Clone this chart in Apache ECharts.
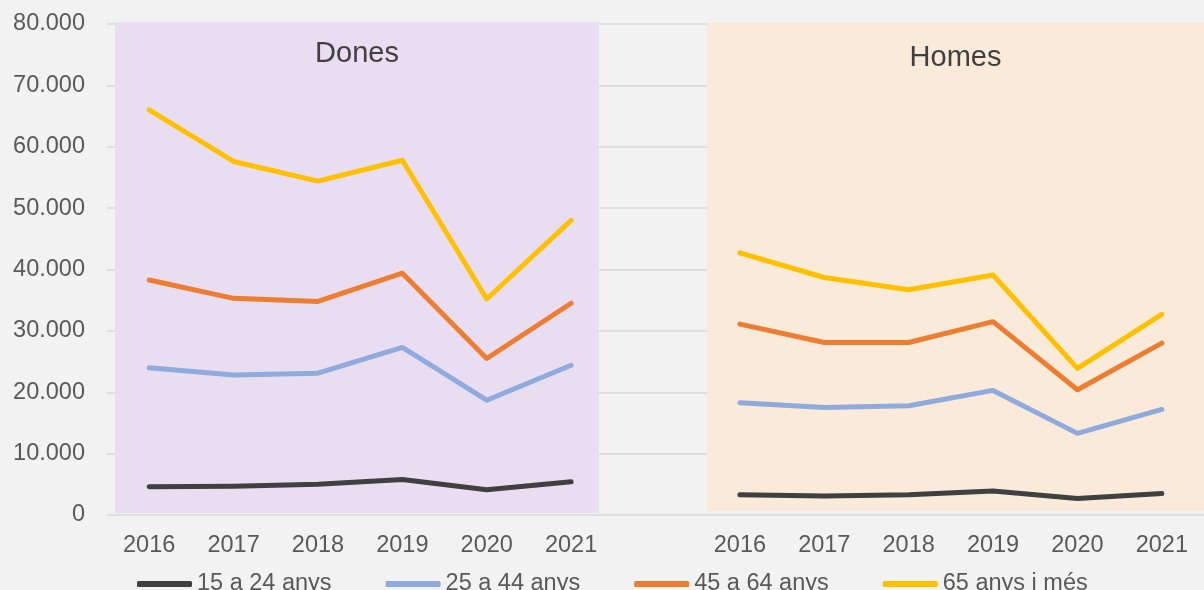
<!DOCTYPE html>
<html>
<head>
<meta charset="utf-8">
<script src="https://cdn.jsdelivr.net/npm/echarts@6/dist/echarts.min.js"></script>
<style>
  html, body { margin: 0; padding: 0; background: #f2f2f2; }
  #main { width: 1204px; height: 590px; }
</style>
</head>
<body>
<div id="main"></div>
<script>
// anys per grup (Dones i Homes), amb una columna buida entre els dos
var years = ['2016', '2017', '2018', '2019', '2020', '2021'];
var groups = ['15 a 24 anys', '25 a 44 anys', '45 a 64 anys', '65 anys i més'];
var colors = ['#404040', '#8FAADC', '#ED7D31', '#FFC000'];

var dones15 = [4600, 4700, 5000, 5800, 4100, 5400];
var dones25 = [24000, 22800, 23100, 27300, 18700, 24400];
var dones45 = [38300, 35300, 34800, 39400, 25500, 34500];
var dones65 = [66000, 57600, 54400, 57800, 35200, 48000];

var homes15 = [3300, 3100, 3300, 3900, 2700, 3500];
var homes25 = [18300, 17500, 17800, 20300, 13300, 17200];
var homes45 = [31100, 28100, 28100, 31500, 20400, 28000];
var homes65 = [42700, 38700, 36700, 39100, 23900, 32700];

// fons de cada bloc: [x inici, x final, y baix, y dalt, títol]
var bands = [
    [0.095, 5.83, 330, 80300, 'Dones'],
    [7.11, 13, 650, 80300, 'Homes']
];
var bandColors = ['#E9DDF1', '#F9EADA'];

var categories = years.concat(['']).concat(years);
function join(a, b) { return a.concat(['-']).concat(b); }
var seriesData = [join(dones15, homes15), join(dones25, homes25), join(dones45, homes45), join(dones65, homes65)];

var font = 'Liberation Sans, Arial, sans-serif';

var myChart = echarts.init(document.getElementById('main'));

var series = [{
    type: 'custom',
    xAxisIndex: 1,
    yAxisIndex: 0,
    silent: true,
    z: 1,
    data: bands,
    encode: { x: [0, 1], y: [2, 3] },
    renderItem: function (params, api) {
        var p0 = api.coord([api.value(0), api.value(3)]);
        var p1 = api.coord([api.value(1), api.value(2)]);
        var i = params.dataIndex;
        return {
            type: 'group',
            children: [{
                type: 'rect',
                shape: { x: p0[0], y: p0[1], width: p1[0] - p0[0], height: p1[1] - p0[1] },
                style: { fill: bandColors[i] }
            }, {
                type: 'text',
                x: (p0[0] + p1[0]) / 2,
                y: p0[1] + (i === 0 ? 32 : 36),
                style: {
                    text: bands[i][4],
                    fill: '#404040',
                    font: '29px ' + font,
                    align: 'center',
                    verticalAlign: 'middle'
                }
            }]
        };
    }
}];

groups.forEach(function (name, i) {
    series.push({
        name: name,
        type: 'line',
        data: seriesData[i],
        symbol: 'none',
        z: 3,
        color: colors[i],
        lineStyle: { width: 5, color: colors[i], cap: 'round', join: 'round' }
    });
});

myChart.setOption({
    backgroundColor: '#f2f2f2',
    animation: false,
    textStyle: { fontFamily: font },
    grid: { left: 107, right: 0, top: 24, bottom: 75 },
    legend: {
        data: groups,
        left: 132,
        top: 567,
        itemGap: 54,
        itemWidth: 55,
        itemHeight: 6,
        icon: 'roundRect',
        textStyle: { fontSize: 23.5, color: '#595959', padding: [0, 0, 0, 0] }
    },
    xAxis: [{
        type: 'category',
        data: categories,
        axisLine: { show: false },
        axisTick: { show: false },
        axisLabel: { interval: 0, fontSize: 23.5, color: '#595959', margin: 19 }
    }, {
        type: 'value',
        min: 0,
        max: 13,
        show: false
    }],
    yAxis: {
        type: 'value',
        min: 0,
        max: 80000,
        interval: 10000,
        axisLine: { show: false },
        axisTick: { show: false },
        axisLabel: {
            fontSize: 23.5,
            color: '#595959',
            margin: 22,
            formatter: function (v) {
                return String(v).replace(/\B(?=(\d{3})+(?!\d))/g, '.');
            }
        },
        splitLine: { lineStyle: { color: '#d9d9d9', width: 1.5 } }
    },
    series: series
});
</script>
</body>
</html>
